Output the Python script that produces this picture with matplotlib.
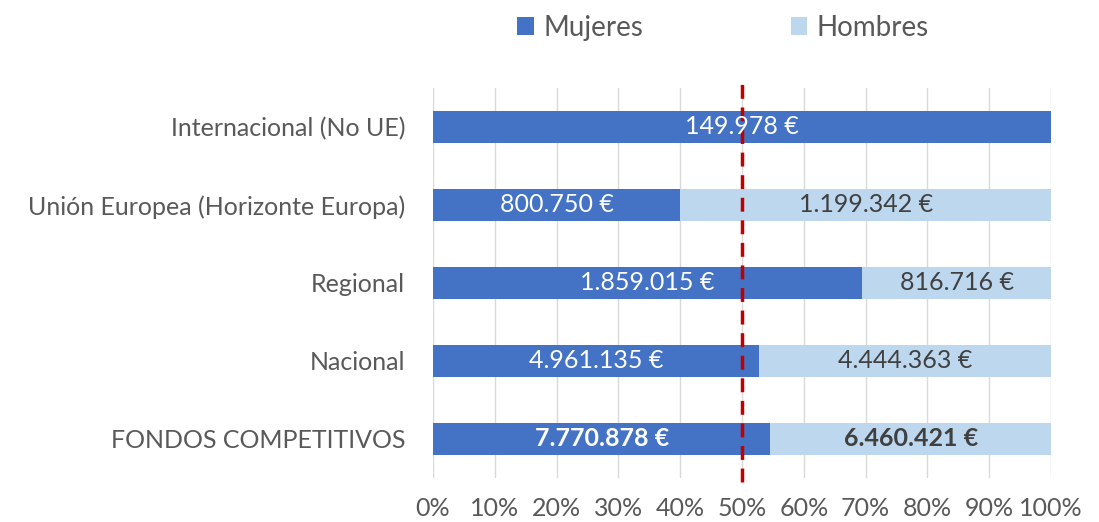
import matplotlib.pyplot as plt
import numpy as np

# Datos
categorias = ['FONDOS COMPETITIVOS', 'Nacional', 'Regional',
              'Unión Europea (Horizonte Europa)', 'Internacional (No UE)']
mujeres = [7770878, 4961135, 1859015, 800750, 149978]
hombres = [6460421, 4444363, 816716, 1199342, 0]
ticks = [0, 10, 20, 30, 40, 50, 60, 70, 80, 90, 100]

def fmt(v):
    return f"{v:,}".replace(',', '.') + ' €'

plt.rcParams['font.family'] = ['Lato', 'DejaVu Sans']
gris = '#595959'
azul = '#4472C4'
celeste = '#BDD7EE'

muj = np.array(mujeres, dtype=float)
hom = np.array(hombres, dtype=float)
tot = muj + hom
p_muj = muj / tot * 100
p_hom = hom / tot * 100

fig = plt.figure(figsize=(10.99, 5.22), dpi=100)
ax = fig.add_axes([433 / 1099, 1 - 478 / 522, 618 / 1099, 390 / 522])

y = np.arange(len(categorias))
ax.barh(y, p_muj, height=0.4, color=azul, label='Mujeres', zorder=2)
ax.barh(y, p_hom, left=p_muj, height=0.4, color=celeste, label='Hombres', zorder=2)

for i in range(len(categorias)):
    peso = 'bold' if i == 0 else 'normal'
    ax.text(p_muj[i] / 2, i, fmt(mujeres[i]), ha='center', va='center',
            color='white', fontsize=18, fontweight=peso, zorder=4)
    if hombres[i] > 0:
        ax.text(p_muj[i] + p_hom[i] / 2, i, fmt(hombres[i]), ha='center', va='center',
                color='#404040', fontsize=18, fontweight=peso, zorder=4)

ax.axvline(50, ymin=-0.01, ymax=1.015, color='#C00000', lw=2.5,
           ls=(0, (4, 2.5)), zorder=3, clip_on=False)

ax.set_xlim(0, 100)
ax.set_ylim(-0.5, len(categorias) - 0.5)
ax.set_xticks(ticks)
ax.set_xticklabels([f'{t}%' for t in ticks])
ax.set_yticks(y)
ax.set_yticklabels(categorias)
ax.tick_params(axis='both', length=0, labelsize=18, colors=gris)
ax.tick_params(axis='x', pad=14)
ax.tick_params(axis='y', pad=20)
ax.grid(axis='x', color='#D9D9D9', lw=1, zorder=0)
for s in ax.spines.values():
    s.set_visible(False)

fig.legend(loc='upper center', bbox_to_anchor=(0.658, 1.02), ncol=2, frameon=False,
           fontsize=20, handlelength=0.6, handleheight=0.6, columnspacing=5.3,
           handletextpad=0.35, labelcolor=gris)

fig.savefig('out.png', dpi=100)
